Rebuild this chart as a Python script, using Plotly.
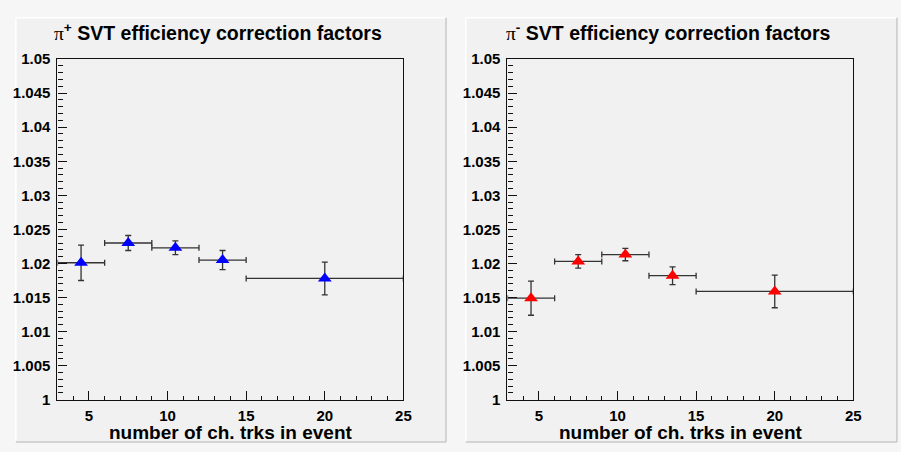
import plotly.graph_objects as go

# Track-multiplicity bins (centres and half-widths)
bin_centers = [4.5, 7.5, 10.5, 13.5, 20.0]
bin_halfwidths = [1.5, 1.5, 1.5, 1.5, 5.0]

# SVT efficiency correction factors and their uncertainties
pip_values = [1.0201, 1.0230, 1.0223, 1.0205, 1.0178]
pip_errors = [0.0026, 0.0011, 0.0010, 0.0014, 0.0024]
pim_values = [1.0149, 1.0203, 1.0213, 1.0182, 1.0159]
pim_errors = [0.0025, 0.0010, 0.0009, 0.0013, 0.0024]

# Axis tick labels
y_tickvals = [1.0, 1.005, 1.01, 1.015, 1.02, 1.025, 1.03, 1.035, 1.04, 1.045, 1.05]
y_ticktext = ["1", "1.005", "1.01", "1.015", "1.02", "1.025", "1.03", "1.035", "1.04", "1.045", "1.05"]
x_tickvals = [5, 10, 15, 20, 25]
x_ticktext = ["5", "10", "15", "20", "25"]

titles = [
    "<span style='font-family:Liberation Serif;font-weight:normal'>π</span><sup>+</sup> SVT efficiency correction factors",
    "<span style='font-family:Liberation Serif;font-weight:normal'>π</span><sup>-</sup> SVT efficiency correction factors",
]
x_title = "number of ch. trks in event"

W, H = 901, 452
FONT = "Liberation Sans, Arial, sans-serif"
PAD_BG = "#f1f1f1"
CANVAS_BG = "#f6f6f6"


def px(x):
    return x / W


def py(y):
    return 1 - y / H


fig = go.Figure()

series = [(pip_values, pip_errors, "#0000ff"), (pim_values, pim_errors, "#ff0000")]
for i, (vals, errs, col) in enumerate(series):
    sfx = "" if i == 0 else "2"
    fig.add_trace(go.Scatter(
        x=bin_centers, y=vals,
        mode="markers",
        marker=dict(symbol="triangle-up", size=12, color=col, line=dict(width=0)),
        error_y=dict(type="data", array=errs, visible=True, color="#333333", thickness=1.3, width=3),
        error_x=dict(type="data", array=bin_halfwidths, visible=True, color="#333333", thickness=1.3, width=3),
        xaxis="x" + sfx, yaxis="y" + sfx,
        showlegend=False,
    ))

frames = [(58, 407), (512, 861)]
y_dom = [py(406), py(52)]

axis_common = dict(
    showgrid=False, zeroline=False, showline=True, linecolor="#111111", linewidth=1.2,
    mirror=True, ticks="inside", tickcolor="#111111", ticklen=9, tickwidth=1,
    tickfont=dict(family=FONT, size=15, color="black", weight="bold"),
)

layout = dict(
    width=W, height=H,
    margin=dict(l=0, r=0, t=0, b=0),
    paper_bgcolor=CANVAS_BG, plot_bgcolor=PAD_BG,
)
for i, (x0, x1) in enumerate(frames):
    sfx = "" if i == 0 else "2"
    layout["xaxis" + sfx] = dict(
        axis_common, domain=[px(x0), px(x1)], range=[3, 25], anchor="y" + sfx,
        tickvals=x_tickvals, ticktext=x_ticktext, ticklabelstandoff=2,
        minor=dict(ticks="inside", ticklen=4, dtick=1, tick0=0, tickcolor="#111111", showgrid=False),
    )
    layout["yaxis" + sfx] = dict(
        axis_common, domain=y_dom, range=[1.0, 1.05], anchor="x" + sfx,
        tickvals=y_tickvals, ticktext=y_ticktext, ticklabelstandoff=3,
        minor=dict(ticks="inside", ticklen=5, dtick=0.001, tick0=1.0, tickcolor="#111111", showgrid=False),
    )
fig.update_layout(**layout)

# Pads with bevelled borders
shapes = []
for (x0, x1) in [(16, 450), (470, 905)]:
    shapes.append(dict(type="rect", xref="paper", yref="paper", x0=px(x0), x1=px(x1), y0=py(450), y1=py(9),
                       fillcolor=PAD_BG, line=dict(width=0), layer="below"))
    shapes.append(dict(type="line", xref="paper", yref="paper", x0=px(x0), x1=px(x1), y0=py(9), y1=py(9),
                       line=dict(color="#ffffff", width=1.5), layer="below"))
    shapes.append(dict(type="line", xref="paper", yref="paper", x0=px(x0), x1=px(x0), y0=py(450), y1=py(9),
                       line=dict(color="#ffffff", width=1.5), layer="below"))
    shapes.append(dict(type="line", xref="paper", yref="paper", x0=px(x0), x1=px(x1), y0=py(450), y1=py(450),
                       line=dict(color="#c8c8c8", width=1.5), layer="below"))
    shapes.append(dict(type="line", xref="paper", yref="paper", x0=px(x1), x1=px(x1), y0=py(450), y1=py(9),
                       line=dict(color="#c8c8c8", width=1.5), layer="below"))
fig.update_layout(shapes=shapes)

annotations = []
for i, (x0, x1) in enumerate(frames):
    cx = (x0 + x1) / 2
    annotations.append(dict(
        text=titles[i], xref="paper", yref="paper", x=px(cx - 13), y=py(24),
        xanchor="center", yanchor="middle", showarrow=False,
        font=dict(family=FONT, size=19.5, color="black", weight="bold"),
    ))
    annotations.append(dict(
        text=x_title, xref="paper", yref="paper", x=px(cx), y=py(440),
        xanchor="center", yanchor="middle", showarrow=False,
        font=dict(family=FONT, size=19, color="black", weight="bold"),
    ))
fig.update_layout(annotations=annotations)

fig.write_html("out.html")
